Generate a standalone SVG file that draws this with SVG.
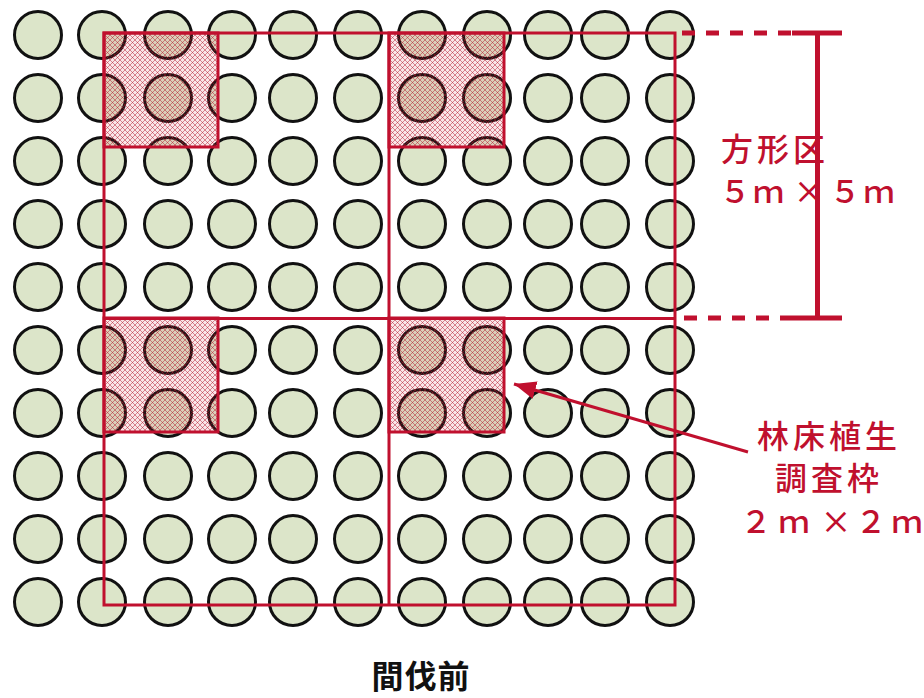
<svg xmlns="http://www.w3.org/2000/svg" width="924" height="698" viewBox="0 0 924 698">
<style>
.tree{fill:#DCE5C9;stroke:#111;stroke-width:3}
.quad{fill:url(#hatch);stroke:#C0102E;stroke-width:3}
.frame{fill:none;stroke:#C0102E;stroke-width:3}
.dash{stroke:#C0102E;stroke-width:5;stroke-dasharray:13 11;fill:none}
.dim{stroke:#C0102E;stroke-width:5;fill:none}
.lbl{font-family:"Noto Sans CJK JP","Noto Sans",sans-serif;font-size:32px;font-weight:500;fill:#C0102E;letter-spacing:4px}
.num{font-family:"Noto Sans CJK JP","Noto Sans",sans-serif;font-size:31px;font-weight:500;fill:#C0102E;text-anchor:middle}
.title{font-family:"Noto Sans CJK JP","Noto Sans",sans-serif;font-size:32px;font-weight:bold;fill:#111;letter-spacing:1px}
</style>
<defs>
<pattern id="hatch" patternUnits="userSpaceOnUse" width="5" height="5">
<rect width="5" height="5" fill="#D03040" fill-opacity="0.12"/>
<path d="M-1,-1 L6,6 M6,-1 L-1,6" stroke="#B01028" stroke-opacity="0.6" stroke-width="0.8"/>
</pattern>
<marker id="ah" markerUnits="userSpaceOnUse" markerWidth="26" markerHeight="20" refX="22" refY="9" orient="auto">
<path d="M0,0 L22,9 L0,18 Z" fill="#C0102E"/>
</marker>
</defs>
<rect width="924" height="698" fill="#fff"/>
<g id="trees">
<g id="row1"><circle class="tree" cx="38" cy="35" r="23.5"/><circle class="tree" cx="102" cy="35" r="23.5"/><circle class="tree" cx="168" cy="35" r="23.5"/><circle class="tree" cx="232" cy="35" r="23.5"/><circle class="tree" cx="293" cy="35" r="23.5"/><circle class="tree" cx="358" cy="35" r="23.5"/><circle class="tree" cx="422" cy="35" r="23.5"/><circle class="tree" cx="487" cy="35" r="23.5"/><circle class="tree" cx="548" cy="35" r="23.5"/><circle class="tree" cx="605" cy="35" r="23.5"/><circle class="tree" cx="670" cy="35" r="23.5"/></g>
<g id="row2"><circle class="tree" cx="38" cy="98" r="23.5"/><circle class="tree" cx="102" cy="98" r="23.5"/><circle class="tree" cx="168" cy="98" r="23.5"/><circle class="tree" cx="232" cy="98" r="23.5"/><circle class="tree" cx="293" cy="98" r="23.5"/><circle class="tree" cx="358" cy="98" r="23.5"/><circle class="tree" cx="422" cy="98" r="23.5"/><circle class="tree" cx="487" cy="98" r="23.5"/><circle class="tree" cx="548" cy="98" r="23.5"/><circle class="tree" cx="605" cy="98" r="23.5"/><circle class="tree" cx="670" cy="98" r="23.5"/></g>
<g id="row3"><circle class="tree" cx="38" cy="161" r="23.5"/><circle class="tree" cx="102" cy="161" r="23.5"/><circle class="tree" cx="168" cy="161" r="23.5"/><circle class="tree" cx="232" cy="161" r="23.5"/><circle class="tree" cx="293" cy="161" r="23.5"/><circle class="tree" cx="358" cy="161" r="23.5"/><circle class="tree" cx="422" cy="161" r="23.5"/><circle class="tree" cx="487" cy="161" r="23.5"/><circle class="tree" cx="548" cy="161" r="23.5"/><circle class="tree" cx="605" cy="161" r="23.5"/><circle class="tree" cx="670" cy="161" r="23.5"/></g>
<g id="row4"><circle class="tree" cx="38" cy="224" r="23.5"/><circle class="tree" cx="102" cy="224" r="23.5"/><circle class="tree" cx="168" cy="224" r="23.5"/><circle class="tree" cx="232" cy="224" r="23.5"/><circle class="tree" cx="293" cy="224" r="23.5"/><circle class="tree" cx="358" cy="224" r="23.5"/><circle class="tree" cx="422" cy="224" r="23.5"/><circle class="tree" cx="487" cy="224" r="23.5"/><circle class="tree" cx="548" cy="224" r="23.5"/><circle class="tree" cx="605" cy="224" r="23.5"/><circle class="tree" cx="670" cy="224" r="23.5"/></g>
<g id="row5"><circle class="tree" cx="38" cy="287" r="23.5"/><circle class="tree" cx="102" cy="287" r="23.5"/><circle class="tree" cx="168" cy="287" r="23.5"/><circle class="tree" cx="232" cy="287" r="23.5"/><circle class="tree" cx="293" cy="287" r="23.5"/><circle class="tree" cx="358" cy="287" r="23.5"/><circle class="tree" cx="422" cy="287" r="23.5"/><circle class="tree" cx="487" cy="287" r="23.5"/><circle class="tree" cx="548" cy="287" r="23.5"/><circle class="tree" cx="605" cy="287" r="23.5"/><circle class="tree" cx="670" cy="287" r="23.5"/></g>
<g id="row6"><circle class="tree" cx="38" cy="350" r="23.5"/><circle class="tree" cx="102" cy="350" r="23.5"/><circle class="tree" cx="168" cy="350" r="23.5"/><circle class="tree" cx="232" cy="350" r="23.5"/><circle class="tree" cx="293" cy="350" r="23.5"/><circle class="tree" cx="358" cy="350" r="23.5"/><circle class="tree" cx="422" cy="350" r="23.5"/><circle class="tree" cx="487" cy="350" r="23.5"/><circle class="tree" cx="548" cy="350" r="23.5"/><circle class="tree" cx="605" cy="350" r="23.5"/><circle class="tree" cx="670" cy="350" r="23.5"/></g>
<g id="row7"><circle class="tree" cx="38" cy="413" r="23.5"/><circle class="tree" cx="102" cy="413" r="23.5"/><circle class="tree" cx="168" cy="413" r="23.5"/><circle class="tree" cx="232" cy="413" r="23.5"/><circle class="tree" cx="293" cy="413" r="23.5"/><circle class="tree" cx="358" cy="413" r="23.5"/><circle class="tree" cx="422" cy="413" r="23.5"/><circle class="tree" cx="487" cy="413" r="23.5"/><circle class="tree" cx="548" cy="413" r="23.5"/><circle class="tree" cx="605" cy="413" r="23.5"/><circle class="tree" cx="670" cy="413" r="23.5"/></g>
<g id="row8"><circle class="tree" cx="38" cy="476" r="23.5"/><circle class="tree" cx="102" cy="476" r="23.5"/><circle class="tree" cx="168" cy="476" r="23.5"/><circle class="tree" cx="232" cy="476" r="23.5"/><circle class="tree" cx="293" cy="476" r="23.5"/><circle class="tree" cx="358" cy="476" r="23.5"/><circle class="tree" cx="422" cy="476" r="23.5"/><circle class="tree" cx="487" cy="476" r="23.5"/><circle class="tree" cx="548" cy="476" r="23.5"/><circle class="tree" cx="605" cy="476" r="23.5"/><circle class="tree" cx="670" cy="476" r="23.5"/></g>
<g id="row9"><circle class="tree" cx="38" cy="539" r="23.5"/><circle class="tree" cx="102" cy="539" r="23.5"/><circle class="tree" cx="168" cy="539" r="23.5"/><circle class="tree" cx="232" cy="539" r="23.5"/><circle class="tree" cx="293" cy="539" r="23.5"/><circle class="tree" cx="358" cy="539" r="23.5"/><circle class="tree" cx="422" cy="539" r="23.5"/><circle class="tree" cx="487" cy="539" r="23.5"/><circle class="tree" cx="548" cy="539" r="23.5"/><circle class="tree" cx="605" cy="539" r="23.5"/><circle class="tree" cx="670" cy="539" r="23.5"/></g>
<g id="row10"><circle class="tree" cx="38" cy="602" r="23.5"/><circle class="tree" cx="102" cy="602" r="23.5"/><circle class="tree" cx="168" cy="602" r="23.5"/><circle class="tree" cx="232" cy="602" r="23.5"/><circle class="tree" cx="293" cy="602" r="23.5"/><circle class="tree" cx="358" cy="602" r="23.5"/><circle class="tree" cx="422" cy="602" r="23.5"/><circle class="tree" cx="487" cy="602" r="23.5"/><circle class="tree" cx="548" cy="602" r="23.5"/><circle class="tree" cx="605" cy="602" r="23.5"/><circle class="tree" cx="670" cy="602" r="23.5"/></g>
</g>
<g id="quadrats">
<rect id="q1" class="quad" x="104" y="33" width="114" height="114"/>
<rect id="q2" class="quad" x="389" y="33" width="115" height="114"/>
<rect id="q3" class="quad" x="104" y="318" width="114" height="114"/>
<rect id="q4" class="quad" x="389" y="318" width="115" height="114"/>
</g>
<g id="plot">
<rect class="frame" x="104" y="33" width="571" height="572"/>
<line class="frame" x1="389" y1="33" x2="389" y2="605"/>
<line class="frame" x1="104" y1="318.5" x2="675" y2="318.5"/>
</g>
<g id="dimension">
<line class="dash" x1="682" y1="33" x2="792" y2="33"/>
<line class="dash" x1="684" y1="318" x2="792" y2="318"/>
<line class="dim" x1="792" y1="33" x2="842" y2="33"/>
<line class="dim" x1="792" y1="318" x2="842" y2="318"/>
<line class="dim" x1="817.5" y1="33" x2="817.5" y2="318"/>
</g>
<g id="label-plot">
<text class="lbl" x="721" y="161">方形区</text>
<text class="num" y="203"><tspan x="735">５</tspan><tspan x="768.5">ｍ</tspan><tspan x="809">×</tspan><tspan x="845">５</tspan><tspan x="879">ｍ</tspan></text>
</g>
<g id="label-quadrat">
<text class="lbl" x="829" y="448" text-anchor="middle">林床植生</text>
<text class="lbl" x="829" y="490" text-anchor="middle">調査枠</text>
<text class="num" y="533"><tspan x="756">２</tspan><tspan x="794">ｍ</tspan><tspan x="836">×</tspan><tspan x="871">２</tspan><tspan x="907">ｍ</tspan></text>
</g>
<g id="connectors">
<line x1="748" y1="452" x2="514" y2="384" stroke="#C0102E" stroke-width="3" marker-end="url(#ah)"/>
</g>
<g id="title">
<text class="title" x="421" y="688" text-anchor="middle">間伐前</text>
</g>
</svg>
